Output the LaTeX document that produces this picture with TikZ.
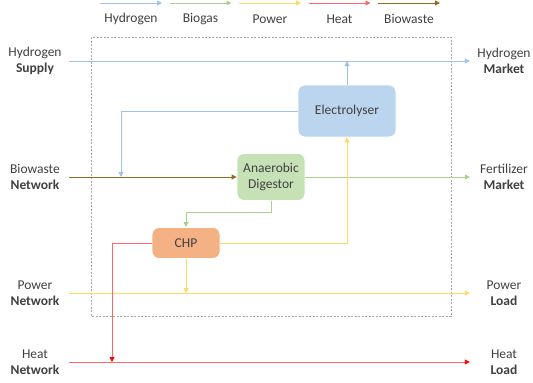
\documentclass[tikz,border=0pt]{standalone}
\usepackage{fontspec}
\setmainfont{Carlito}
\usetikzlibrary{arrows.meta,
                positioning}
\definecolor{hydrogen}{HTML}{9DC3E6}
\definecolor{biogas}{HTML}{A9D18E}
\definecolor{power}{HTML}{FFD966}
\definecolor{heat}{HTML}{FF6666}
\definecolor{biowaste}{HTML}{8C6D1F}
\definecolor{chpfill}{HTML}{F4B183}
\definecolor{ink}{HTML}{404040}

\begin{document}
\begin{tikzpicture}[x=1pt,y=-1pt,
    font=\fontsize{13.5}{16}\selectfont,
    flow/.style={line width=0.9pt,-{Triangle[length=5pt,width=5pt]}},
    heatflow/.style={flow,heat,-{Triangle[length=5pt,width=5pt,color=red]}},
    unit/.style={rounded corners=7pt,draw=white,line width=0.8pt,align=center,inner sep=0pt,text=ink},
    endpoint/.style={text width=68pt,align=center,inner sep=0pt,text=ink}]
 \useasboundingbox (0,0) rectangle (533,383);
 % legend
 \foreach \name/\col [count=\i] in {Hydrogen/hydrogen,Biogas/biogas,Power/power,Heat/heat,Biowaste/biowaste}
   {
     \coordinate (la\i) at (100+69.5*\i-69.5,3);
     \coordinate (lb\i) at (162+69.5*\i-69.5,3);
     \node[text=ink] (lg\i) at (131+69.5*\i-69.5,19) {\name};
     \draw[flow,\col] (la\i) -- (lb\i);
   }
 \draw[gray!70,dash pattern=on 2pt off 1.5pt,line width=0.7pt] (91,37) rectangle (451,316);
 % sources and sinks
 \node[endpoint] (hs) at (35,61)  {Hydrogen\\\textbf{Supply}};
 \node[endpoint] (bn) at (35,177) {Biowaste\\\textbf{Network}};
 \node[endpoint] (pn) at (35,293) {Power\\\textbf{Network}};
 \node[endpoint] (hn) at (35,362) {Heat\\\textbf{Network}};
 \node[endpoint] (hm) at (504,61)  {Hydrogen\\\textbf{Market}};
 \node[endpoint] (fm) at (504,177) {Fertilizer\\\textbf{Market}};
 \node[endpoint] (pl) at (504,293) {Power\\\textbf{Load}};
 \node[endpoint] (hl) at (504,362) {Heat\\\textbf{Load}};
 % units
 \node[unit,fill=hydrogen!70,minimum width=98pt,minimum height=52pt] (el) at (347,111) {Electrolyser};
 \node[unit,fill=biogas!65,minimum width=68pt,minimum height=47pt] (ad) at (271,177) {Anaerobic\\Digestor};
 \node[unit,fill=chpfill,minimum width=68pt,minimum height=31pt] (chp) at (186,243) {CHP};
 \coordinate (hx) at (121,177);
 \coordinate (gb) at (271,212);
 \coordinate (hy) at (112,362);
 % flows
 \draw[flow,hydrogen] (hs.east) -- (hm.west);
 \draw[flow,hydrogen] (el.north) -- (el.north |- hs.east);
 \draw[flow,hydrogen] (el.west) -| (hx);
 \draw[flow,biowaste] (bn.east) -- (ad.west);
 \draw[flow,biogas] (ad.east) -- (fm.west);
 \draw[flow,biogas] (ad.south) -- (gb) -| (chp.north);
 \draw[flow,power] (pn.east) -- (pl.west);
 \draw[flow,power] (chp.east) -| (el.south);
 \draw[flow,power] (chp.south) -- (chp.south |- pn.east);
 \draw[heatflow] (hn.east) -- (hl.west);
 \draw[heatflow] (chp.west) -| (hy);
\end{tikzpicture}
\end{document}
